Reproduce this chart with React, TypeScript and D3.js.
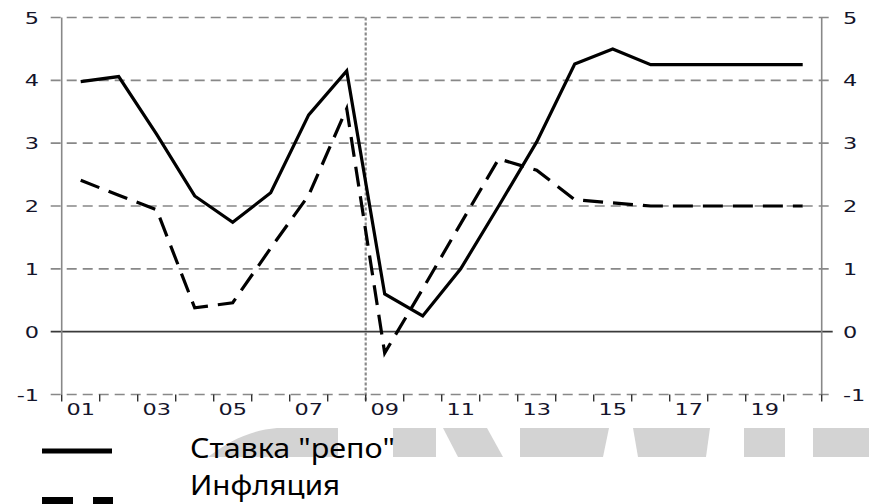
import { useEffect, useRef } from 'react';
import * as d3 from 'd3';

const years = ['01', '02', '03', '04', '05', '06', '07', '08', '09', '10', '11', '12', '13', '14', '15', '16', '17', '18', '19', '20'];
const repoRate = [3.98, 4.06, 3.14, 2.16, 1.74, 2.21, 3.45, 4.15, 0.6, 0.25, 1.0, 2.0, 3.02, 4.26, 4.5, 4.25, 4.25, 4.25, 4.25, 4.25];
const inflation = [2.41, 2.17, 1.94, 0.38, 0.46, 1.33, 2.17, 3.55, -0.34, 0.68, 1.72, 2.75, 2.57, 2.1, 2.05, 2.0, 2.0, 2.0, 2.0, 2.0];
const yTicks = [-1, 0, 1, 2, 3, 4, 5];
const legendLabels = ['Ставка "репо"', 'Инфляция'];
const legendWidths = [205, 150];

const WIDTH = 869;
const HEIGHT = 504;

export default function App() {
	const svgRef = useRef<SVGSVGElement>(null);

	useEffect(() => {
		if (!svgRef.current) return;
		const svg = d3.select(svgRef.current);
		svg.selectAll('*').remove();

		const left = 61.7;
		const right = 821.7;
		const top = 17.5;
		const bottom = 394.5;

		const x = d3.scaleBand<string>().domain(years).range([left, right]).padding(0);
		const y = d3.scaleLinear().domain([-1, 5]).range([bottom, top]);
		const cx = (d: string) => (x(d) as number) + x.bandwidth() / 2;

		// watermark fragments behind the legend
		const wm = svg.append('g').attr('fill', '#d3d3d3');
		wm.append('path').attr('d', 'M208,457 C230,440 252,430 277,428 L338,428 L338,457 Z');
		wm.append('path').attr('d', 'M393,428 L436,428 L436,457 L393,457 Z');
		wm.append('path').attr('d', 'M443,428 L487,428 L503,457 L458,457 Z');
		wm.append('path').attr('d', 'M520,428 L609,428 L603,457 L520,457 Z');
		wm.append('path').attr('d', 'M633,428 L710,428 L706,457 L638,457 Z');
		wm.append('path').attr('d', 'M744,428 L785,428 L785,457 L744,457 Z');
		wm.append('path').attr('d', 'M813,428 L869,428 L869,457 L813,457 Z');

		// horizontal grid
		svg
			.append('g')
			.selectAll('line')
			.data(yTicks.filter((t) => t !== 0))
			.join('line')
			.attr('x1', left - 11)
			.attr('x2', right + 11)
			.attr('y1', (d) => y(d))
			.attr('y2', (d) => y(d))
			.attr('stroke', '#888')
			.attr('stroke-width', 1.6)
			.attr('stroke-dasharray', '10,6');

		// zero line
		svg
			.append('line')
			.attr('x1', left - 11)
			.attr('x2', right + 11)
			.attr('y1', y(0))
			.attr('y2', y(0))
			.attr('stroke', '#3a3a3a')
			.attr('stroke-width', 1.6);

		// left / right axes
		[left, right].forEach((ax) => {
			svg
				.append('line')
				.attr('x1', ax)
				.attr('x2', ax)
				.attr('y1', top)
				.attr('y2', bottom)
				.attr('stroke', '#888')
				.attr('stroke-width', 1.6);
		});

		// crisis marker between 08 and 09
		svg
			.append('line')
			.attr('x1', x('09') as number)
			.attr('x2', x('09') as number)
			.attr('y1', top)
			.attr('y2', bottom + 7)
			.attr('stroke', '#8a8a8a')
			.attr('stroke-width', 2.2)
			.attr('stroke-dasharray', '3,2');

		// x ticks at band boundaries
		const bounds = years.map((d) => x(d) as number).concat([right]);
		svg
			.append('g')
			.selectAll('line')
			.data(bounds)
			.join('line')
			.attr('x1', (d) => d)
			.attr('x2', (d) => d)
			.attr('y1', bottom)
			.attr('y2', bottom + 7)
			.attr('stroke', '#333')
			.attr('stroke-width', 1.4);

		const labelFont = "'DejaVu Sans', Verdana, sans-serif";
		const stretch = 1.4;

		// x labels (odd years), drawn in a wide face
		svg
			.append('g')
			.selectAll('text')
			.data(years.filter((_, i) => i % 2 === 0))
			.join('text')
			.attr('transform', (d) => `translate(${cx(d)},415) scale(${stretch},1)`)
			.attr('text-anchor', 'middle')
			.style('font-family', labelFont)
			.style('font-size', '16px')
			.attr('fill', '#14142a')
			.text((d) => d);

		// y labels both sides
		svg
			.append('g')
			.selectAll('text')
			.data(yTicks)
			.join('text')
			.attr('transform', (d) => `translate(39,${y(d) + 6}) scale(${stretch},1)`)
			.attr('text-anchor', 'end')
			.style('font-family', labelFont)
			.style('font-size', '16px')
			.attr('fill', '#14142a')
			.text((d) => String(d));

		svg
			.append('g')
			.selectAll('text')
			.data(yTicks)
			.join('text')
			.attr('transform', (d) => `translate(843,${y(d) + 6}) scale(${stretch},1)`)
			.attr('text-anchor', 'start')
			.style('font-family', labelFont)
			.style('font-size', '16px')
			.attr('fill', '#14142a')
			.text((d) => String(d));

		// series
		const line = d3
			.line<number>()
			.x((_, i) => cx(years[i]))
			.y((d) => y(d));

		svg
			.append('path')
			.datum(inflation)
			.attr('fill', 'none')
			.attr('stroke', '#000')
			.attr('stroke-width', 3.2)
			.attr('stroke-dasharray', '20,10')
			.attr('d', line);

		svg
			.append('path')
			.datum(repoRate)
			.attr('fill', 'none')
			.attr('stroke', '#000')
			.attr('stroke-width', 3.2)
			.attr('stroke-linejoin', 'miter')
			.attr('d', line);

		// legend
		svg
			.append('line')
			.attr('x1', 42)
			.attr('x2', 112)
			.attr('y1', 451)
			.attr('y2', 451)
			.attr('stroke', '#000')
			.attr('stroke-width', 5);

		svg
			.append('line')
			.attr('x1', 42)
			.attr('x2', 113)
			.attr('y1', 501)
			.attr('y2', 501)
			.attr('stroke', '#000')
			.attr('stroke-width', 8)
			.attr('stroke-dasharray', '31,20');

		svg
			.append('g')
			.selectAll('text')
			.data(legendLabels)
			.join('text')
			.attr('x', 190)
			.attr('y', (_, i) => 458 + i * 37)
			.attr('textLength', (_, i) => legendWidths[i])
			.attr('lengthAdjust', 'spacingAndGlyphs')
			.style('font-family', "'Noto Sans', sans-serif")
			.style('font-size', '27px')
			.attr('fill', '#000')
			.text((d) => d);
	}, []);

	return (
		<svg
			ref={svgRef}
			width={WIDTH}
			height={HEIGHT}
			style={{ position: 'absolute', left: 0, top: 0, background: '#fff', display: 'block' }}
		></svg>
	);
}
